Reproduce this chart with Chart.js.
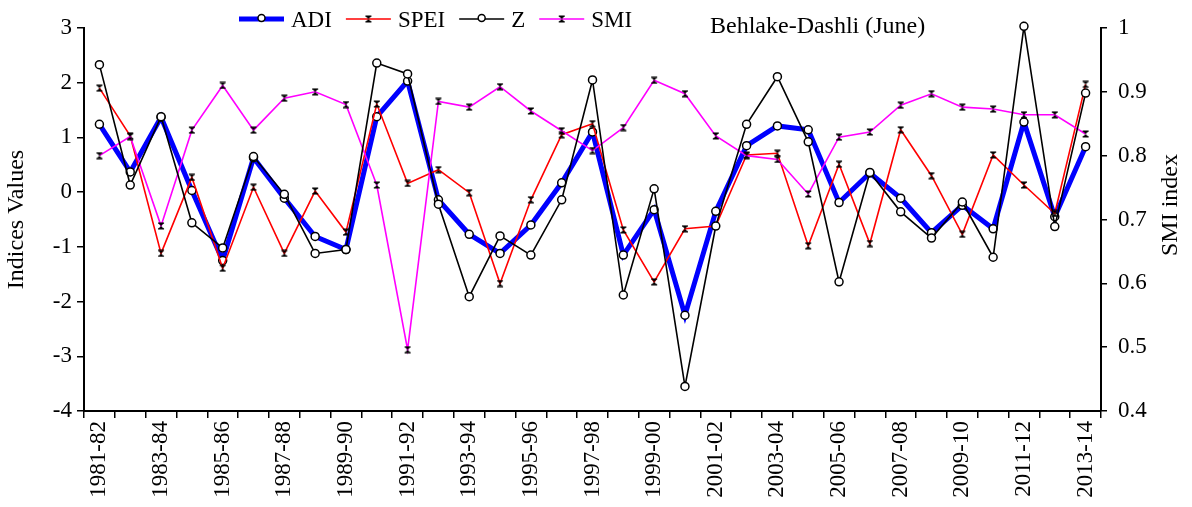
<!DOCTYPE html>
<html>
<head>
<meta charset="utf-8">
<script src="https://cdn.jsdelivr.net/npm/chart.js@4.4.1/dist/chart.umd.min.js"></script>
<style>
  html, body { margin: 0; padding: 0; background: #fff; }
  #wrap { width: 1192px; height: 507px; position: relative; }
</style>
</head>
<body>
<div id="wrap"><canvas id="c" width="1192" height="507"></canvas></div>
<script>
const categories = ['1981-82','1982-83','1983-84','1984-85','1985-86','1986-87','1987-88','1988-89','1989-90','1990-91','1991-92','1992-93','1993-94','1994-95','1995-96','1996-97','1997-98','1998-99','1999-00','2000-01','2001-02','2002-03','2003-04','2004-05','2005-06','2006-07','2007-08','2008-09','2009-10','2010-11','2011-12','2012-13','2013-14'];
const adiValues  = [1.24, 0.37, 1.37, 0.03, -1.25, 0.63, -0.11, -0.81, -1.05, 1.38, 2.03, -0.14, -0.77, -1.12, -0.60, 0.17, 1.10, -1.15, -0.32, -2.25, -0.35, 0.85, 1.21, 1.14, -0.19, 0.35, -0.11, -0.74, -0.24, -0.67, 1.28, -0.45, 0.83];
const speiValues = [1.90, 1.03, -1.12, 0.27, -1.39, 0.09, -1.12, 0.02, -0.73, 1.61, 0.16, 0.41, -0.01, -1.67, -0.14, 1.05, 1.25, -0.69, -1.64, -0.67, -0.62, 0.68, 0.71, -0.98, 0.51, -0.94, 1.14, 0.30, -0.77, 0.68, 0.13, -0.39, 1.97];
const zValues    = [2.33, 0.13, 1.38, -0.56, -1.02, 0.65, -0.04, -1.12, -1.05, 2.36, 2.16, -0.22, -1.91, -0.80, -1.15, -0.14, 2.05, -1.88, 0.06, -3.55, -0.62, 1.24, 2.11, 0.92, -1.64, 0.36, -0.36, -0.84, -0.18, -1.19, 3.03, -0.63, 1.81];
const smiValues  = [0.800, 0.830, 0.690, 0.840, 0.910, 0.840, 0.890, 0.900, 0.880, 0.754, 0.496, 0.885, 0.876, 0.908, 0.870, 0.839, 0.808, 0.844, 0.918, 0.897, 0.831, 0.800, 0.794, 0.740, 0.829, 0.837, 0.879, 0.897, 0.876, 0.873, 0.864, 0.864, 0.834];
const leftTickValues  = [-4, -3, -2, -1, 0, 1, 2, 3];
const rightTickValues = [0.4, 0.5, 0.6, 0.7, 0.8, 0.9, 1];
const seriesNames = ['ADI', 'SPEI', 'Z', 'SMI'];
const chartTitle = 'Behlake-Dashli (June)';
const leftAxisTitle = 'Indices Values';
const rightAxisTitle = 'SMI index';

const SERIF = '"Liberation Serif", "Times New Roman", "DejaVu Serif", serif';

function makeHourglass() {
  const c = document.createElement('canvas');
  c.width = 8; c.height = 8;
  const g = c.getContext('2d');
  g.fillStyle = '#000';
  g.beginPath();
  g.moveTo(1, 1); g.lineTo(7, 1); g.lineTo(1, 7); g.lineTo(7, 7); g.closePath();
  g.fill();
  g.fillRect(1, 0.5, 6, 1.2);
  g.fillRect(1, 6.3, 6, 1.2);
  return c;
}
const hourglass = makeHourglass();

const datasets = [
  { label: seriesNames[0], data: adiValues, yAxisID: 'y', borderColor: '#0000ff', borderWidth: 5,
    pointStyle: 'circle', pointRadius: 4, pointBorderColor: '#000', pointBackgroundColor: '#fff', pointBorderWidth: 1.5,
    tension: 0, order: 4 },
  { label: seriesNames[1], data: speiValues, yAxisID: 'y', borderColor: '#ff0000', borderWidth: 1.6,
    pointStyle: hourglass, pointRadius: 4, tension: 0, order: 3 },
  { label: seriesNames[2], data: zValues, yAxisID: 'y', borderColor: '#000', borderWidth: 1.6,
    pointStyle: 'circle', pointRadius: 4, pointBorderColor: '#000', pointBackgroundColor: '#fff', pointBorderWidth: 1.5,
    tension: 0, order: 1, clip: false },
  { label: seriesNames[3], data: smiValues, yAxisID: 'y1', borderColor: '#ff00ff', borderWidth: 1.6,
    pointStyle: hourglass, pointRadius: 4, tension: 0, order: 2 }
];

const decorPlugin = {
  id: 'decor',
  afterDraw(chart) {
    const ctx = chart.ctx;
    const area = chart.chartArea;
    ctx.save();
    // legend
    ctx.font = '23px ' + SERIF;
    ctx.textBaseline = 'alphabetic';
    ctx.fillStyle = '#000';
    let x = 239;
    const lineY = 19;
    const lineLen = 45;
    chart.data.datasets.forEach((ds) => {
      ctx.strokeStyle = ds.borderColor;
      ctx.lineWidth = ds.borderWidth;
      ctx.beginPath(); ctx.moveTo(x, lineY); ctx.lineTo(x + lineLen, lineY); ctx.stroke();
      const cx = x + lineLen / 2;
      if (ds.pointStyle === 'circle') {
        ctx.beginPath(); ctx.arc(cx, lineY - 1, 3.5, 0, Math.PI * 2);
        ctx.fillStyle = '#fff'; ctx.fill();
        ctx.lineWidth = 1.5; ctx.strokeStyle = '#000'; ctx.stroke();
      } else {
        ctx.drawImage(hourglass, cx - 4, lineY - 4);
      }
      ctx.fillStyle = '#000';
      ctx.fillText(ds.label, x + lineLen + 7, 27);
      x += lineLen + 7 + ctx.measureText(ds.label).width + 14;
    });
    // title
    ctx.font = '24px ' + SERIF;
    ctx.fillText(chartTitle, 710, 33);
    // axis titles
    ctx.font = '24px ' + SERIF;
    ctx.textAlign = 'center';
    ctx.textBaseline = 'middle';
    ctx.save();
    ctx.translate(17, (area.top + area.bottom) / 2);
    ctx.rotate(-Math.PI / 2);
    ctx.fillText(leftAxisTitle, 0, 0);
    ctx.restore();
    ctx.save();
    ctx.translate(1171, 205);
    ctx.rotate(-Math.PI / 2);
    ctx.fillText(rightAxisTitle, 0, 0);
    ctx.restore();
    ctx.restore();
  }
};

new Chart(document.getElementById('c'), {
  type: 'line',
  data: { labels: categories, datasets },
  options: {
    responsive: false,
    animation: false,
    devicePixelRatio: 1,
    layout: { padding: { top: 28, left: 0, right: 0, bottom: 0 } },
    plugins: { legend: { display: false }, tooltip: { enabled: false }, title: { display: false } },
    scales: {
      x: {
        type: 'category',
        offset: true,
        grid: { display: true, drawOnChartArea: false, offset: true, tickLength: 7, color: '#000', lineWidth: 1.5 },
        border: { display: true, color: '#000', width: 2 },
        ticks: {
          autoSkip: false, maxRotation: 90, minRotation: 90, padding: 3,
          color: '#000', font: { family: SERIF, size: 23 },
          callback: (v, i) => (i % 2 === 0 ? categories[i] : '')
        },
        afterFit(scale) { scale.height = 96; }
      },
      y: {
        position: 'left', min: -4, max: 3,
        afterBuildTicks(scale) { scale.ticks = leftTickValues.map(v => ({ value: v })); },
        grid: { drawOnChartArea: false, tickLength: 7, color: '#000', lineWidth: 1.5 },
        border: { display: true, color: '#000', width: 2 },
        ticks: { color: '#000', padding: 5, font: { family: SERIF, size: 23 }, callback: v => String(v) },
        afterFit(scale) { scale.width = 84; }
      },
      y1: {
        position: 'right', min: 0.4, max: 1,
        afterBuildTicks(scale) { scale.ticks = rightTickValues.map(v => ({ value: v })); },
        grid: { drawOnChartArea: false, tickLength: 6, color: '#000', lineWidth: 1.5 },
        border: { display: true, color: '#000', width: 2 },
        ticks: { color: '#000', padding: 11, font: { family: SERIF, size: 23 },
          callback: v => (Math.abs(v - 1) < 1e-9 ? '1' : Number(v).toFixed(1)) },
        afterFit(scale) { scale.width = 91; }
      }
    }
  },
  plugins: [decorPlugin]
});
</script>
</body>
</html>
